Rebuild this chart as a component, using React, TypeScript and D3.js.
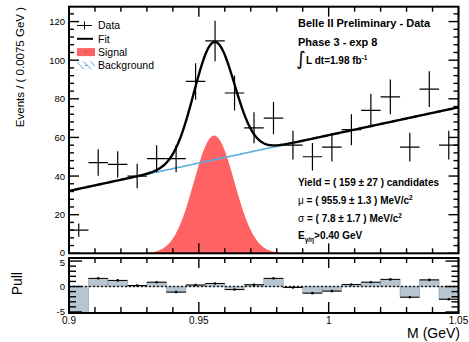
import React, { useEffect, useRef } from 'react';
import * as d3 from 'd3';

// histogram: 20 bins of 0.0075 GeV between 0.9 and 1.05
const massRange = [0.9, 1.05];
const binWidth = 0.0075;
const counts = [12, 47, 46, 40, 49, 49, 89, 110, 83, 65, 70, 56, 50, 55, 64, 74, 81, 55, 85, 56];
const pulls = [-6.2, 1.6, 1.2, 0.2, 0.85, -1.1, 0.3, 0.6, -0.6, 0.35, 1.6, -0.2, -1.3, -0.9, 0.4, 0.85, 1.4, -2.1, 1.3, -2.5];

// fit result (signal gaussian + linear background)
const signalMu = 0.9559;
const signalSigma = 0.0078;
const signalYield = 159;
const bgEnds = [32.3, 75.6]; // background level at 0.9 and 1.05

const yTicks = [0, 20, 40, 60, 80, 100, 120];
const xTicks = [0.9, 0.95, 1, 1.05];
const xTickLabels = ['0.9', '0.95', '1', '1.05'];
const pullTicks = [-5, 0, 5];
const legendLabels = ['Data', 'Fit', 'Signal', 'Background'];

const FONT = '"Liberation Sans", Arial, Helvetica, sans-serif';

const App: React.FC = () => {
  const ref = useRef<SVGSVGElement | null>(null);

  useEffect(() => {
    const svg = d3.select(ref.current);
    svg.selectAll('*').remove();

    const left = 69, right = 458.5, top = 6.7, bottom = 253.3;
    const pTop = 258, pBottom = 313;

    const x = d3.scaleLinear().domain(massRange).range([left, right]);
    const y = d3.scaleLinear().domain([0, 127.7]).range([bottom, top]);
    const yp = d3.scaleLinear().domain([-5.2, 5.6]).range([pBottom, pTop]);

    svg.append('rect').attr('width', 469).attr('height', 342).attr('fill', 'white');

    const defs = svg.append('defs');
    defs.append('clipPath').attr('id', 'mainClip').append('rect')
      .attr('x', left).attr('y', top).attr('width', right - left).attr('height', bottom - top);
    defs.append('clipPath').attr('id', 'pullClip').append('rect')
      .attr('x', left).attr('y', pTop).attr('width', right - left).attr('height', pBottom - pTop);
    const pat = defs.append('pattern').attr('id', 'hatch').attr('patternUnits', 'userSpaceOnUse')
      .attr('width', 5).attr('height', 5).attr('patternTransform', 'rotate(-45)');
    pat.append('line').attr('x1', 0).attr('y1', 0).attr('x2', 0).attr('y2', 5)
      .attr('stroke', '#4fa8e0').attr('stroke-width', 1.4);

    const bg = (m: number) => bgEnds[0] + (m - massRange[0]) / (massRange[1] - massRange[0]) * (bgEnds[1] - bgEnds[0]);
    const sig = (m: number) => signalYield * binWidth / (signalSigma * Math.sqrt(2 * Math.PI)) *
      Math.exp(-0.5 * ((m - signalMu) / signalSigma) ** 2);

    const xs = d3.range(massRange[0], massRange[1] + 0.00001, 0.0005);
    const main = svg.append('g').attr('clip-path', 'url(#mainClip)');

    main.append('path')
      .datum(xs)
      .attr('d', d3.area<number>().x(d => x(d)).y0(y(0)).y1(d => y(sig(d))))
      .attr('fill', '#ff6262');

    main.append('path')
      .datum(xs)
      .attr('d', d3.line<number>().x(d => x(d)).y(d => y(bg(d))))
      .attr('fill', 'none').attr('stroke', '#5aaede').attr('stroke-width', 1.6);

    main.append('path')
      .datum(xs)
      .attr('d', d3.line<number>().x(d => x(d)).y(d => y(bg(d) + sig(d))))
      .attr('fill', 'none').attr('stroke', 'black').attr('stroke-width', 2.4);

    counts.forEach((c, i) => {
      const lo = massRange[0] + i * binWidth;
      const mid = lo + binWidth / 2;
      const err = Math.sqrt(c);
      main.append('line').attr('x1', x(lo)).attr('x2', x(lo + binWidth)).attr('y1', y(c)).attr('y2', y(c))
        .attr('stroke', 'black').attr('stroke-width', 1.2);
      main.append('line').attr('x1', x(mid)).attr('x2', x(mid)).attr('y1', y(c - err)).attr('y2', y(c + err))
        .attr('stroke', 'black').attr('stroke-width', 1.2);
    });

    // pull panel
    const pull = svg.append('g').attr('clip-path', 'url(#pullClip)');
    pulls.forEach((p, i) => {
      const lo = massRange[0] + i * binWidth;
      pull.append('rect')
        .attr('x', x(lo)).attr('width', x(lo + binWidth) - x(lo))
        .attr('y', Math.min(yp(0), yp(p))).attr('height', Math.abs(yp(p) - yp(0)))
        .attr('fill', '#b7c5d0').attr('stroke', '#8a98a4').attr('stroke-width', 0.6);
    });
    pull.append('line').attr('x1', left).attr('x2', right).attr('y1', yp(0)).attr('y2', yp(0))
      .attr('stroke', '#222').attr('stroke-width', 1.4).attr('stroke-dasharray', '2,2');
    pulls.forEach((p, i) => {
      const lo = massRange[0] + i * binWidth;
      const mid = lo + binWidth / 2;
      pull.append('line').attr('x1', x(lo)).attr('x2', x(lo + binWidth)).attr('y1', yp(p)).attr('y2', yp(p))
        .attr('stroke', 'black').attr('stroke-width', 1);
      pull.append('circle').attr('cx', x(mid)).attr('cy', yp(p)).attr('r', 1.3).attr('fill', 'black');
    });

    // frames and ticks
    const tick = (x1: number, y1: number, x2: number, y2: number) =>
      svg.append('line').attr('x1', x1).attr('y1', y1).attr('x2', x2).attr('y2', y2)
        .attr('stroke', 'black').attr('stroke-width', 1.4);

    const xMinor = d3.range(0, 16).map(k => massRange[0] + k * 0.01);
    xMinor.forEach(v => {
      const major = xTicks.some(t => Math.abs(t - v) < 1e-6);
      const L = major ? 10 : 5;
      tick(x(v), bottom, x(v), bottom - L);
      tick(x(v), top, x(v), top + L);
      tick(x(v), pTop, x(v), pTop + L);
      tick(x(v), pBottom, x(v), pBottom - (major ? 11 : 6));
    });

    d3.range(0, 128, 4).forEach(v => {
      const major = yTicks.includes(v);
      const L = major ? 10 : 5;
      tick(left, y(v), left + L, y(v));
      tick(right, y(v), right - L, y(v));
    });

    d3.range(-5, 6, 1).forEach(v => {
      const major = pullTicks.includes(v);
      const L = major ? 13 : 7;
      tick(left, yp(v), left + L, yp(v));
      tick(right, yp(v), right - L, yp(v));
    });

    [[top, bottom], [pTop, pBottom]].forEach(([t, b]) => {
      svg.append('rect').attr('x', left).attr('y', t).attr('width', right - left).attr('height', b - t)
        .attr('fill', 'none').attr('stroke', 'black').attr('stroke-width', 2);
    });

    // axis labels
    const label = (tx: number, ty: number, s: string, size: number, anchor = 'middle') =>
      svg.append('text').attr('x', tx).attr('y', ty).attr('text-anchor', anchor)
        .style('font-family', FONT).style('font-size', `${size}px`).style('fill', 'black').text(s);

    yTicks.forEach(v => label(65, y(v) + (v === 0 ? 2.5 : 3.5), String(v), 9.5, 'end'));
    pullTicks.forEach(v => label(65, yp(v) + (v === 5 ? 4.5 : 3.5), v < 0 ? `-${-v}` : String(v), 9.5, 'end'));
    xTicks.forEach((v, i) => label(x(v), 324, xTickLabels[i], 10));

    svg.append('text').attr('transform', 'translate(24,7) rotate(-90)').attr('text-anchor', 'end')
      .style('font-family', FONT).style('font-size', '11.5px').text('Events / ( 0.0075 GeV )');
    svg.append('text').attr('transform', 'translate(22,272) rotate(-90)').attr('text-anchor', 'end')
      .style('font-family', FONT).style('font-size', '14px').text('Pull');
    label(460, 338, 'M (GeV)', 14, 'end');

    // legend
    const lg = svg.append('g');
    legendLabels.forEach((name, i) => {
      const cy = 25.5 + i * 13.3;
      if (name === 'Data') {
        lg.append('line').attr('x1', 77).attr('x2', 92).attr('y1', cy).attr('y2', cy).attr('stroke', 'black').attr('stroke-width', 1);
        lg.append('line').attr('x1', 84.5).attr('x2', 84.5).attr('y1', cy - 4).attr('y2', cy + 4).attr('stroke', 'black').attr('stroke-width', 1);
      } else if (name === 'Fit') {
        lg.append('line').attr('x1', 77).attr('x2', 93).attr('y1', cy).attr('y2', cy).attr('stroke', 'black').attr('stroke-width', 2);
      } else if (name === 'Signal') {
        lg.append('rect').attr('x', 77).attr('y', cy - 4).attr('width', 18).attr('height', 8).attr('fill', '#ff6262');
        lg.append('circle').attr('cx', 86).attr('cy', cy).attr('r', 0.6).attr('fill', '#333');
      } else {
        lg.append('rect').attr('x', 77).attr('y', cy - 4).attr('width', 18).attr('height', 8).attr('fill', 'url(#hatch)');
        lg.append('circle').attr('cx', 86).attr('cy', cy).attr('r', 0.6).attr('fill', '#333');
      }
      label(98, cy + 3.7, name, 10.5, 'start');
    });

    // info text
    const bold = (tx: number, ty: number, size: number) =>
      svg.append('text').attr('x', tx).attr('y', ty)
        .style('font-family', FONT).style('font-size', `${size}px`).style('font-weight', 'bold').style('fill', 'black');

    bold(298, 27, 11).text('Belle II Preliminary - Data');
    bold(298, 45.5, 11).text('Phase 3 - exp 8');
    svg.append('text').attr('x', 296).attr('y', 65).style('font-family', '"DejaVu Sans", sans-serif')
      .style('font-size', '19px').text('∫');
    const lum = bold(306, 63.5, 10);
    lum.append('tspan').text('L dt=1.98 fb');
    lum.append('tspan').attr('dy', -4).style('font-size', '6.5px').text('-1');

    bold(298, 186, 10).text('Yield = ( 159 ± 27 ) candidates');
    const mu = bold(298, 204, 10);
    mu.append('tspan').style('font-weight', 'normal').text('μ');
    mu.append('tspan').text(' = ( 955.9 ± 1.3 ) MeV/c');
    mu.append('tspan').attr('dy', -4).style('font-size', '6.5px').text('2');
    const sg = bold(298, 221.5, 10);
    sg.append('tspan').style('font-weight', 'normal').text('σ');
    sg.append('tspan').text(' = ( 7.8 ± 1.7 ) MeV/c');
    sg.append('tspan').attr('dy', -4).style('font-size', '6.5px').text('2');
    const eg = bold(298, 239, 10);
    eg.append('tspan').text('E');
    eg.append('tspan').attr('dy', 2.5).style('font-size', '6.5px').text('γ/η');
    eg.append('tspan').attr('dy', -2.5).text('>0.40 GeV');
  }, []);

  return (
    <svg ref={ref} width={469} height={342}
      style={{ position: 'absolute', left: 0, top: 0, display: 'block' }} />
  );
};

export default App;
